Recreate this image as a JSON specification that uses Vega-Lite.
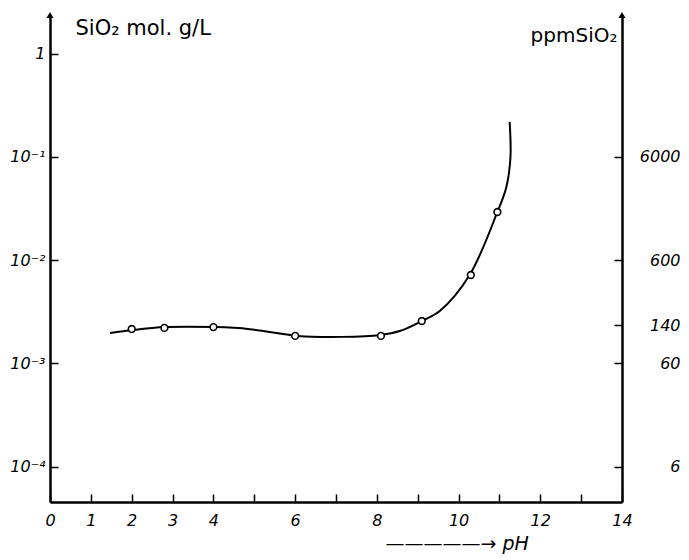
{
  "$schema": "https://vega.github.io/schema/vega-lite/v6.json",
  "width": 572,
  "height": 487,
  "autosize": "none",
  "padding": {"left": 50, "top": 15, "right": 67, "bottom": 58},
  "background": "white",
  "config": {"view": {"stroke": null}, "font": "DejaVu Sans"},
  "datasets": {
    "curve": [
      {"order": 1, "pH": 1.47, "mol": 0.00197},
      {"order": 2, "pH": 2.03, "mol": 0.00211},
      {"order": 3, "pH": 2.84, "mol": 0.00225},
      {"order": 4, "pH": 4.03, "mol": 0.00225},
      {"order": 5, "pH": 4.89, "mol": 0.00215},
      {"order": 6, "pH": 6.06, "mol": 0.00185},
      {"order": 7, "pH": 7.16, "mol": 0.00181},
      {"order": 8, "pH": 8.09, "mol": 0.00189},
      {"order": 9, "pH": 8.56, "mol": 0.00206},
      {"order": 10, "pH": 9.1, "mol": 0.00258},
      {"order": 11, "pH": 9.54, "mol": 0.00322},
      {"order": 12, "pH": 10.27, "mol": 0.00719},
      {"order": 13, "pH": 10.95, "mol": 0.0293},
      {"order": 14, "pH": 11.17, "mol": 0.0512},
      {"order": 15, "pH": 11.27, "mol": 0.0998},
      {"order": 16, "pH": 11.25, "mol": 0.218}
    ],
    "points": [
      {"pH": 2.0, "mol": 0.00216},
      {"pH": 2.8, "mol": 0.00221},
      {"pH": 4.0, "mol": 0.00225},
      {"pH": 6.0, "mol": 0.00185},
      {"pH": 8.1, "mol": 0.00185},
      {"pH": 9.1, "mol": 0.00258},
      {"pH": 10.3, "mol": 0.00719},
      {"pH": 10.95, "mol": 0.0293}
    ],
    "leftArrow": [{"pH": 0, "mol": 2.366}],
    "rightArrow": [{"pH": 14, "ppm": 141960}]
  },
  "layer": [
    {
      "layer": [
        {
          "data": {"name": "curve"},
          "mark": {"type": "line", "interpolate": "catmull-rom", "color": "black", "strokeWidth": 2},
          "encoding": {
            "x": {
              "field": "pH", "type": "quantitative",
              "scale": {"domain": [0, 14], "nice": false, "zero": false},
              "axis": {
                "values": [0,1,2,3,4,5,6,7,8,9,10,11,12,13,14],
                "labelExpr": "indexof([0,1,2,3,4,6,8,10,12,14], datum.value) >= 0 ? datum.label : ''",
                "tickSize": -8, "tickWidth": 1.5, "tickColor": "black",
                "domainWidth": 2.5, "domainColor": "black",
                "labelColor": "black", "labelFontSize": 16, "labelFontStyle": "italic", "labelPadding": 18,
                "labelFlush": false, "labelOverlap": false,
                "grid": false,
                "title": "—————→ pH", "titleX": 335, "titleY": 41,
                "titleAlign": "left", "titleBaseline": "middle",
                "titleFontSize": 19, "titleFontWeight": "normal", "titleFontStyle": "italic", "titleColor": "black"
              }
            },
            "y": {
              "field": "mol", "type": "quantitative",
              "scale": {"type": "log", "domain": [0.0000456, 2.366], "nice": false},
              "axis": {
                "orient": "left",
                "values": [0.0001, 0.001, 0.01, 0.1, 1],
                "labelExpr": "datum.value > 0.5 ? '1' : datum.value > 0.05 ? '10⁻¹' : datum.value > 0.005 ? '10⁻²' : datum.value > 0.0005 ? '10⁻³' : '10⁻⁴'",
                "tickSize": -8, "tickWidth": 1.5, "tickColor": "black",
                "domainWidth": 2.5, "domainColor": "black",
                "labelColor": "black", "labelFontSize": 16, "labelFontStyle": "italic", "labelPadding": 13,
                "labelFlush": false, "labelOverlap": false,
                "grid": false,
                "title": "SiO₂ mol. g/L", "titleAngle": 0, "titleAlign": "left", "titleBaseline": "middle",
                "titleX": 25, "titleY": 13, "titleFontSize": 21, "titleFontWeight": "normal", "titleColor": "black"
              }
            },
            "order": {"field": "order", "type": "quantitative"}
          }
        },
        {
          "data": {"name": "points"},
          "mark": {"type": "point", "shape": "circle", "filled": true, "fill": "white", "stroke": "black", "strokeWidth": 1.6, "size": 45, "opacity": 1},
          "encoding": {
            "x": {"field": "pH", "type": "quantitative"},
            "y": {"field": "mol", "type": "quantitative"}
          }
        },
        {
          "data": {"name": "leftArrow"},
          "mark": {"type": "point", "shape": "triangle-up", "filled": true, "color": "black", "size": 50, "opacity": 1},
          "encoding": {
            "x": {"field": "pH", "type": "quantitative"},
            "y": {"field": "mol", "type": "quantitative"}
          }
        }
      ]
    },
    {
      "data": {"name": "rightArrow"},
      "mark": {"type": "point", "shape": "triangle-up", "filled": true, "color": "black", "size": 50, "opacity": 1},
      "encoding": {
        "x": {"field": "pH", "type": "quantitative"},
        "y": {
          "field": "ppm", "type": "quantitative",
          "scale": {"type": "log", "domain": [2.736, 141960], "nice": false},
          "axis": {
            "orient": "right",
            "values": [6, 60, 140, 600, 6000],
            "format": "d",
            "tickSize": -8, "tickWidth": 1.5, "tickColor": "black",
            "domainWidth": 2.5, "domainColor": "black",
            "labelColor": "black", "labelFontSize": 16, "labelFontStyle": "italic",
            "labelAlign": "right", "labelPadding": 66,
            "labelFlush": false, "labelOverlap": false,
            "grid": false,
            "title": "ppmSiO₂", "titleAngle": 0, "titleAlign": "right", "titleBaseline": "middle",
            "titleX": -5, "titleY": 20, "titleFontSize": 20, "titleFontWeight": "normal", "titleColor": "black"
          }
        }
      }
    }
  ],
  "resolve": {"scale": {"y": "independent"}}
}
